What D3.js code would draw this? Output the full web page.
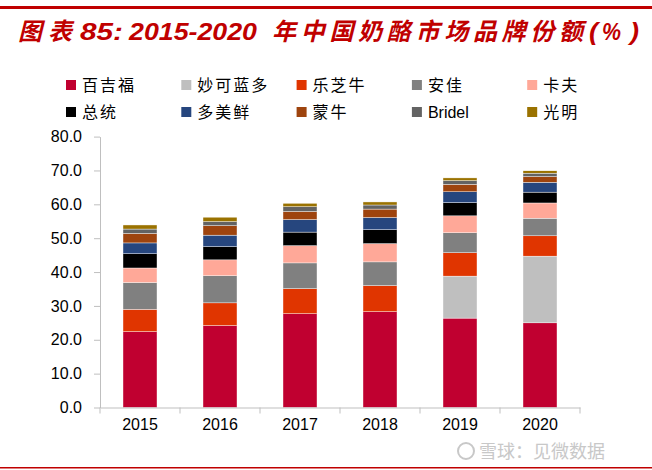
<!DOCTYPE html>
<html><head><meta charset="utf-8">
<script src="https://cdn.jsdelivr.net/npm/d3@7"></script>
<style>body{margin:0;background:#fff}svg{display:block}</style>
</head><body>
<script>
const years = ["2015","2016","2017","2018","2019","2020"];
const brands = ["百吉福","妙可蓝多","乐芝牛","安佳","卡夫","总统","多美鲜","蒙牛","Bridel","光明"];
const colors = ["#C00030","#BFBFBF","#E03500","#808080","#FFA898","#000000","#26467E","#9E440E","#636363","#9A7200"];
const 百吉福 = [22.4,24.2,27.7,28.3,26.4,25.0];
const 妙可蓝多 = [0,0,0,0,12.4,19.7];
const 乐芝牛 = [6.6,6.7,7.4,7.7,6.9,6.0];
const 安佳 = [7.9,8.0,7.6,7.0,5.9,5.2];
const 卡夫 = [4.3,4.7,5.1,5.4,5.0,4.5];
const 总统 = [4.2,3.9,4.0,4.1,3.9,3.2];
const 多美鲜 = [3.2,3.4,3.7,3.6,3.2,2.9];
const 蒙牛 = [2.8,2.8,2.4,2.5,2.2,1.7];
const Bridel = [1.3,1.2,1.4,1.2,1.1,1.0];
const 光明 = [1.2,1.3,1.0,0.9,0.8,0.7];
const yTicks = [0,10,20,30,40,50,60,70,80];
const series = [百吉福,妙可蓝多,乐芝牛,安佳,卡夫,总统,多美鲜,蒙牛,Bridel,光明];

const W=652,H=470;
const svg=d3.select("body").append("svg").attr("width",W).attr("height",H);
svg.append("rect").attr("x",0).attr("y",6).attr("width",W).attr("height",3).attr("fill","#C00000");
svg.append("rect").attr("x",0).attr("y",467).attr("width",W).attr("height",1.5).attr("fill","#C00000");

// title pieces
const titleParts=[
  {t:"图表",x:18,len:54,cjk:true},
  {t:"85:",x:80,len:43,cjk:false},
  {t:"2015-2020",x:129,len:128,cjk:false},
  {t:"年中国奶酪市场品牌份额",x:272,len:311,cjk:true},
  {t:"(",x:589,len:9,cjk:false},
  {t:"%",x:602,len:19,cjk:false},
  {t:")",x:630,len:9,cjk:false}
];
titleParts.forEach(p=>{
  svg.append("text").attr("x",p.x).attr("y",40)
    .attr("font-family",p.cjk?"'Noto Sans CJK SC', sans-serif":"Arial, 'Liberation Sans', sans-serif")
    .attr("font-weight","bold").attr("font-style","italic")
    .attr("font-size",24).attr("fill","#C00000")
    .attr("textLength",p.len).attr("lengthAdjust",p.cjk?"spacing":"spacingAndGlyphs")
    .text(p.t);
});

const x=d3.scaleBand().domain(years).range([100,580]).paddingInner(0.575).paddingOuter(0.2875);
const y=d3.scaleLinear().domain([0,80]).range([407.5,136.6]);

const table=years.map((yr,i)=>{const o={year:yr};brands.forEach((b,j)=>o[b]=series[j][i]);return o;});
const stack=d3.stack().keys(brands)(table);

const g=svg.append("g");
stack.forEach((layer,j)=>{
  g.selectAll(null).data(layer).join("rect")
   .attr("x",d=>x(d.data.year)).attr("width",x.bandwidth())
   .attr("y",d=>y(d[1])).attr("height",d=>Math.max(0,y(d[0])-y(d[1])))
   .attr("fill",colors[j]).attr("stroke","#fff").attr("stroke-width",0.4);
});

const ya=svg.append("g").attr("transform","translate(100,0)")
  .call(d3.axisLeft(y).tickValues(yTicks).tickFormat(d3.format(".1f")).tickSize(6).tickSizeOuter(0));
ya.select(".domain").attr("stroke","#BFBFBF");
ya.selectAll(".tick line").attr("stroke","#BFBFBF");
ya.selectAll(".tick text").attr("font-family","Arial, 'Liberation Sans', sans-serif").attr("font-size",16).attr("fill","#000").attr("x",-18);

const xa=svg.append("g").attr("transform","translate(0,407.5)")
  .call(d3.axisBottom(x).tickSize(0).tickSizeOuter(0));
xa.select(".domain").attr("stroke","#BFBFBF");
xa.selectAll(".tick text").attr("font-family","Arial, 'Liberation Sans', sans-serif").attr("font-size",16).attr("fill","#000").attr("dy","1.2em");
const step=x.step();
xa.selectAll(".sep").data(d3.range(years.length+1)).join("line")
  .attr("x1",i=>100+i*step).attr("x2",i=>100+i*step).attr("y1",0).attr("y2",6).attr("stroke","#BFBFBF");

const lg=svg.append("g");
brands.forEach((b,i)=>{
  const col=i%5,row=Math.floor(i/5);
  const lx=66+col*115.3, ly=85+row*27;
  lg.append("rect").attr("x",lx).attr("y",ly-5).attr("width",10).attr("height",10).attr("fill",colors[i]);
  lg.append("text").attr("x",lx+16).attr("y",ly+6)
    .attr("font-family", b==="Bridel"?"Arial, 'Liberation Sans', sans-serif":"'Noto Sans CJK SC', sans-serif")
    .attr("font-size",16).attr("letter-spacing",b==="Bridel"?0:2).attr("fill","#000").text(b);
});

svg.append("text").attr("x",605).attr("y",458).attr("text-anchor","end")
  .attr("font-family","'Noto Sans CJK SC', sans-serif").attr("font-size",18).attr("fill","#C8C8C8")
  .text("雪球：见微数据");
svg.append("circle").attr("cx",466).attr("cy",451).attr("r",8).attr("fill","none").attr("stroke","#C8C8C8").attr("stroke-width",2);
</script>
</body></html>
